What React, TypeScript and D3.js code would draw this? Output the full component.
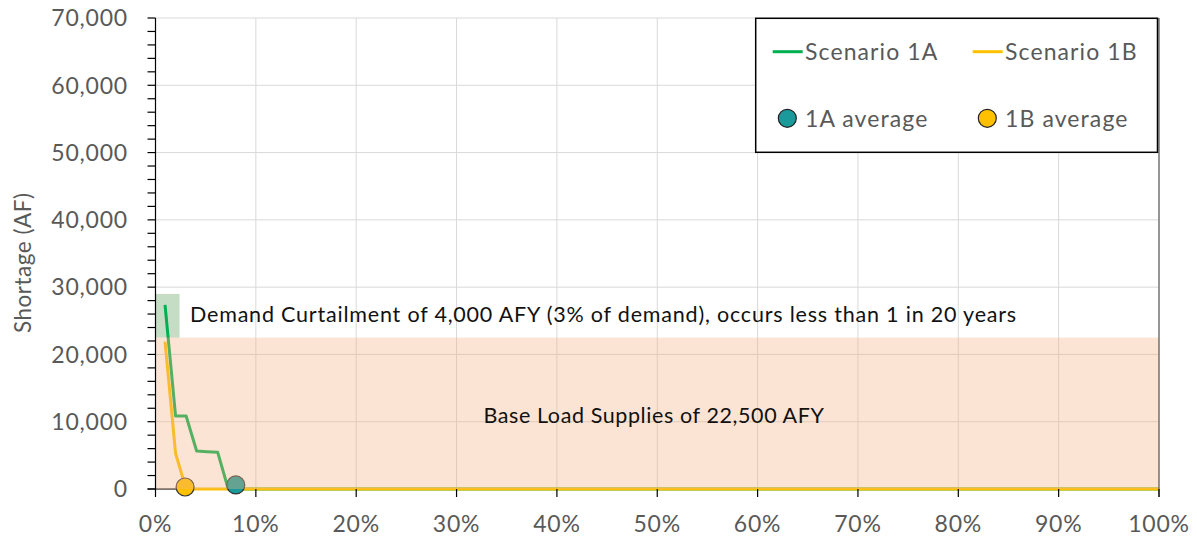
import React from "react";
import * as d3 from "d3";

// ---- data ----
const xTicks = [0, 10, 20, 30, 40, 50, 60, 70, 80, 90, 100];
const yTicks = [0, 10000, 20000, 30000, 40000, 50000, 60000, 70000];
const yMinorTicks = d3.range(0, 70001, 2000);

const scenario1A_x = [0.95, 2.0, 3.05, 4.1, 5.15, 6.2, 7.25, 100];
const scenario1A_y = [27350, 10850, 10850, 5650, 5550, 5450, 0, 0];
const scenario1B_x = [0.95, 2.0, 3.05, 100];
const scenario1B_y = [21900, 5300, 0, 0];

const average1A = { x: 8.0, y: 600 };
const average1B = { x: 2.95, y: 300 };

const baseLoad = 22500;
const curtailmentTop = 29000;
const curtailmentWidth = 2.4;

const W = 1197;
const H = 541;
const M = { left: 155.5, right: 38, top: 18, bottom: 52 };

const GREEN = "#00b050";
const YELLOW = "#ffc000";
const TEAL = "#1a9a9a";
const GRAY = "#595959";
const FONT = "Lato, 'Open Sans', sans-serif";

export default function App() {
  const x = d3.scaleLinear().domain([0, 100]).range([M.left, W - M.right]);
  const y = d3.scaleLinear().domain([0, 70000]).range([H - M.bottom, M.top]);

  const line = d3
    .line<[number, number]>()
    .x((d) => x(d[0]))
    .y((d) => y(d[1]));

  const dA = line(scenario1A_x.map((v, i) => [v, scenario1A_y[i]]) as [number, number][]) || "";
  const dB = line(scenario1B_x.map((v, i) => [v, scenario1B_y[i]]) as [number, number][]) || "";

  const x0 = x(0);
  const x1 = x(100);
  const yb = y(0);
  const yt = y(70000);

  return (
    <svg
      width={W}
      height={H}
      style={{ position: "absolute", left: 0, top: 0, background: "#fff" }}
      fontFamily={FONT}
    >
      {/* gridlines */}
      {yTicks.map((t) => (
        <line key={"hg" + t} x1={x0} x2={x1} y1={y(t)} y2={y(t)} stroke="#d9d9d9" strokeWidth={1} />
      ))}
      {xTicks.map((t) => (
        <line key={"vg" + t} x1={x(t)} x2={x(t)} y1={yt} y2={yb} stroke="#d9d9d9" strokeWidth={1} />
      ))}

      {/* curtailment box */}
      <rect
        x={x0}
        y={y(curtailmentTop)}
        width={x(curtailmentWidth) - x0}
        height={y(baseLoad) - y(curtailmentTop)}
        fill="#5a9a5a"
        fillOpacity={0.35}
      />

      {/* x axis line (under the series) */}
      <line x1={x0 - 8} x2={x1} y1={yb} y2={yb} stroke="#000" strokeWidth={1.2} />

      {/* series lines */}
      <path d={dA} fill="none" stroke={GREEN} strokeWidth={3} strokeLinejoin="round" />
      <path d={dB} fill="none" stroke={YELLOW} strokeWidth={3} strokeLinejoin="round" />

      {/* averages */}
      <circle cx={x(average1B.x)} cy={y(average1B.y)} r={9} fill={YELLOW} stroke="#333" strokeWidth={1.2} />
      <circle cx={x(average1A.x)} cy={y(average1A.y)} r={9} fill={TEAL} stroke="#333" strokeWidth={1.2} />

      {/* base load overlay */}
      <rect
        x={x0}
        y={y(baseLoad)}
        width={x1 - x0}
        height={yb - y(baseLoad)}
        fill="#f4b183"
        fillOpacity={0.35}
      />

      {/* axes */}
      <line x1={x0} x2={x0} y1={yt} y2={yb} stroke="#000" strokeWidth={1.2} />
      <line x1={x1} x2={x1} y1={yt} y2={yb + 8} stroke="#404040" strokeWidth={1} />
      {yMinorTicks.map((t) => (
        <line key={"yt" + t} x1={x0 - 8} x2={x0} y1={y(t)} y2={y(t)} stroke="#000" strokeWidth={1.2} />
      ))}
      {xTicks.map((t) => (
        <line key={"xt" + t} x1={x(t)} x2={x(t)} y1={yb} y2={yb + 8} stroke="#000" strokeWidth={1.2} />
      ))}

      {/* tick labels */}
      {yTicks.map((t) => (
        <text
          key={"yl" + t}
          x={128}
          y={y(t)}
          dy="0.36em"
          textAnchor="end"
          fontSize={23}
          letterSpacing={0.8}
          fill={GRAY}
        >
          {d3.format(",")(t)}
        </text>
      ))}
      {xTicks.map((t) => (
        <text
          key={"xl" + t}
          x={x(t)}
          y={532}
          textAnchor="middle"
          fontSize={23}
          letterSpacing={0.8}
          fill={GRAY}
        >
          {t + "%"}
        </text>
      ))}

      {/* y title */}
      <text
        transform={`translate(31, 333) rotate(-90)`}
        fontSize={22.5}
        letterSpacing={0.5}
        fill={GRAY}
        textAnchor="start"
      >
        Shortage (AF)
      </text>

      {/* annotations */}
      <text x={190} y={322} fontSize={21.5} letterSpacing={0.8} fill="#111">
        Demand Curtailment of 4,000 AFY (3% of demand), occurs less than 1 in 20 years
      </text>
      <text x={654} y={423} textAnchor="middle" fontSize={21.5} letterSpacing={0.6} fill="#111">
        Base Load Supplies of 22,500 AFY
      </text>

      {/* legend */}
      <rect x={755.7} y={18.3} width={401.8} height={134} fill="#fff" stroke="#000" strokeWidth={1.5} />
      <line x1={772.7} x2={802.7} y1={51.7} y2={51.7} stroke={GREEN} strokeWidth={3} />
      <text x={805} y={60} fontSize={23} letterSpacing={1.1} fill={GRAY}>
        Scenario 1A
      </text>
      <line x1={972.7} x2={1002.7} y1={51.7} y2={51.7} stroke={YELLOW} strokeWidth={3} />
      <text x={1005} y={60} fontSize={23} letterSpacing={1.1} fill={GRAY}>
        Scenario 1B
      </text>
      <circle cx={787.3} cy={118.3} r={9} fill={TEAL} stroke="#222" strokeWidth={1.2} />
      <text x={805} y={126.5} fontSize={23} letterSpacing={1.1} fill={GRAY}>
        1A average
      </text>
      <circle cx={987.3} cy={118.3} r={9} fill={YELLOW} stroke="#222" strokeWidth={1.2} />
      <text x={1005} y={126.5} fontSize={23} letterSpacing={1.1} fill={GRAY}>
        1B average
      </text>
    </svg>
  );
}
